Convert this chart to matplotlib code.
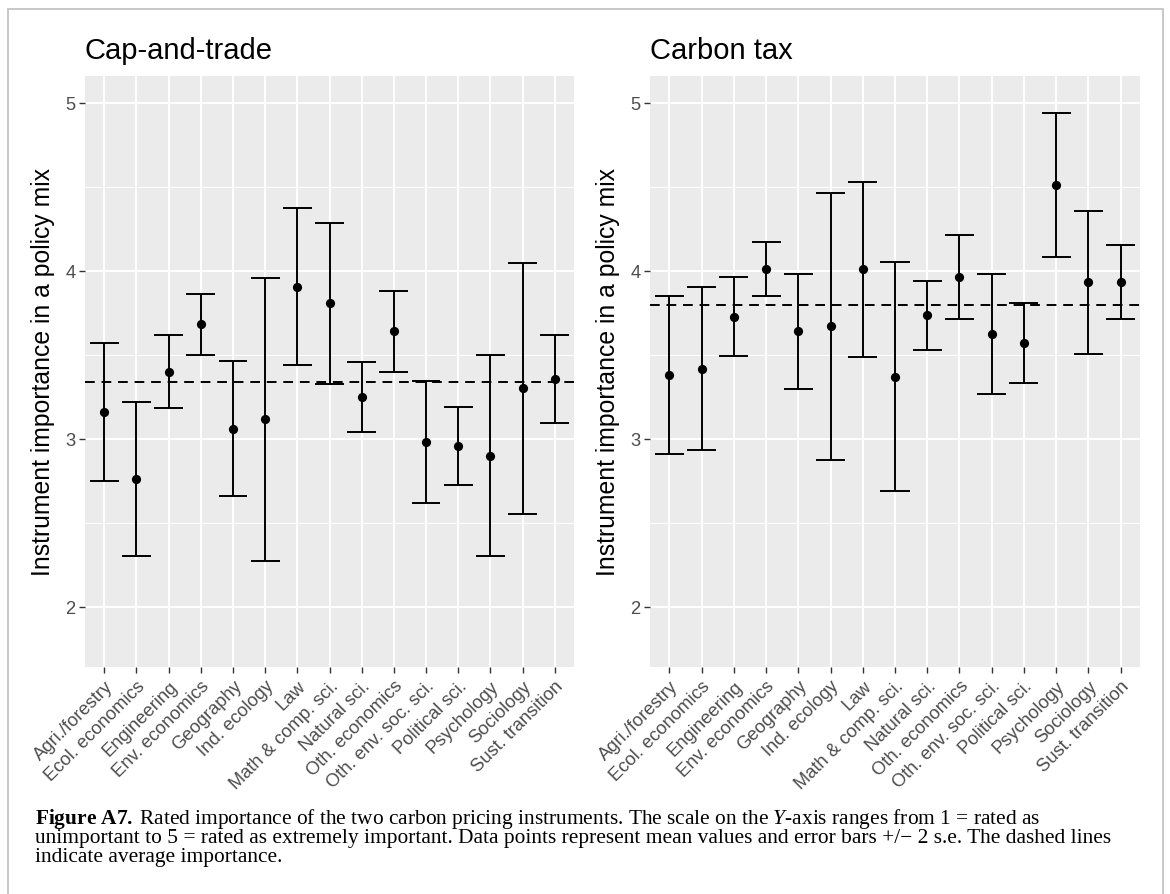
import numpy as np
import matplotlib
matplotlib.use("Agg")
import matplotlib.pyplot as plt
from matplotlib.patches import Rectangle

plt.rcParams["font.family"] = ["Liberation Sans", "DejaVu Sans"]
plt.rcParams["mathtext.fontset"] = "custom"
plt.rcParams["mathtext.rm"] = "Liberation Serif"
plt.rcParams["mathtext.it"] = "Liberation Serif:italic"
plt.rcParams["mathtext.bf"] = "Liberation Serif:bold"

disciplinas = [
    "Agri./forestry", "Ecol. economics", "Engineering", "Env. economics",
    "Geography", "Ind. ecology", "Law", "Math & comp. sci.", "Natural sci.",
    "Oth. economics", "Oth. env. soc. sci.", "Political sci.", "Psychology",
    "Sociology", "Sust. transition",
]

# Cap-and-trade: médias e +/- 2 s.e.
cat_media = [3.16, 2.76, 3.40, 3.68, 3.06, 3.115, 3.905, 3.805, 3.25, 3.64,
             2.98, 2.955, 2.90, 3.30, 3.355]
cat_2se = [0.41, 0.46, 0.22, 0.18, 0.40, 0.84, 0.465, 0.478, 0.208, 0.24,
           0.364, 0.231, 0.60, 0.745, 0.261]
cat_geral = 3.335

# Carbon tax
tax_media = [3.38, 3.416, 3.725, 4.01, 3.64, 3.67, 4.008, 3.37, 3.735, 3.96,
             3.625, 3.57, 4.509, 3.93, 3.932]
tax_2se = [0.468, 0.485, 0.235, 0.16, 0.343, 0.795, 0.52, 0.68, 0.205, 0.25,
           0.358, 0.236, 0.428, 0.423, 0.222]
tax_geral = 3.795

ylabel = "Instrument importance in a policy mix"

W, H = 1170, 895


def painel(ax, titulo, medias, erros, media_geral):
    x = np.arange(1, len(disciplinas) + 1)
    medias = np.array(medias)
    erros = np.array(erros)
    lo, hi = medias - erros, medias + erros

    ax.set_facecolor("#EBEBEB")
    ax.axhline(media_geral, color="black", lw=1.4, ls=(0, (5, 3.5)), zorder=2)
    ax.vlines(x, lo, hi, color="black", lw=1.4, zorder=3)
    ax.hlines(hi, x - 0.45, x + 0.45, color="black", lw=1.4, zorder=3)
    ax.hlines(lo, x - 0.45, x + 0.45, color="black", lw=1.4, zorder=3)
    ax.scatter(x, medias, s=44, color="black", zorder=4, linewidths=0)

    ax.set_xlim(0.4, 15.6)
    ax.set_ylim(1.64, 5.16)
    ax.set_xticks(x)
    ax.set_xticklabels(disciplinas, rotation=45, ha="right", va="top",
                       rotation_mode="anchor")
    ax.set_yticks([2, 3, 4, 5])
    ax.set_yticks([2.5, 3.5, 4.5], minor=True)
    ax.set_xticks([], minor=True)

    ax.set_axisbelow(True)
    ax.grid(which="major", color="white", lw=1.4)
    ax.grid(which="minor", axis="y", color="white", lw=0.7)
    for s in ax.spines.values():
        s.set_visible(False)
    ax.tick_params(which="major", length=4, width=1.0, color="#333333",
                   labelcolor="#4D4D4D", labelsize=13.2, pad=3)
    ax.tick_params(which="minor", length=0)

    ax.set_title(titulo, loc="left", fontsize=21, pad=13)
    ax.text(-42 / 489, 0.5, ylabel, transform=ax.transAxes, rotation=90,
            ha="center", va="center", fontsize=17.8)


fig = plt.figure(figsize=(W / 100, H / 100), dpi=100)
topo, base = 76.7, 668.3
ax1 = fig.add_axes([85 / W, 1 - base / H, 489 / W, (base - topo) / H])
ax2 = fig.add_axes([650 / W, 1 - base / H, 490 / W, (base - topo) / H])

painel(ax1, "Cap-and-trade", cat_media, cat_2se, cat_geral)
painel(ax2, "Carbon tax", tax_media, tax_2se, tax_geral)

# moldura cinza em volta da figura
fig.patches.append(Rectangle((7.5 / W, -0.05), (1163.3 - 7.5) / W, 1.05 - 10 / H,
                             transform=fig.transFigure, fill=False,
                             edgecolor="#C8C8C8", lw=1.4))

legenda = [
    r"$\mathbf{Figure\ A7.}\;$Rated importance of the two carbon pricing instruments. "
    r"The scale on the $\mathit{Y}$-axis ranges from 1 = rated as",
    "unimportant to 5 = rated as extremely important. Data points represent mean "
    "values and error bars +/\u2212 2 s.e. The dashed lines",
    "indicate average importance.",
]
for i, linha in enumerate(legenda):
    fig.text(35 / W, 1 - (819 + 19.5 * i) / H, linha, ha="left", va="center",
             fontsize=15.4, family="Liberation Serif", color="black")

fig.savefig("out.png", dpi=100)
